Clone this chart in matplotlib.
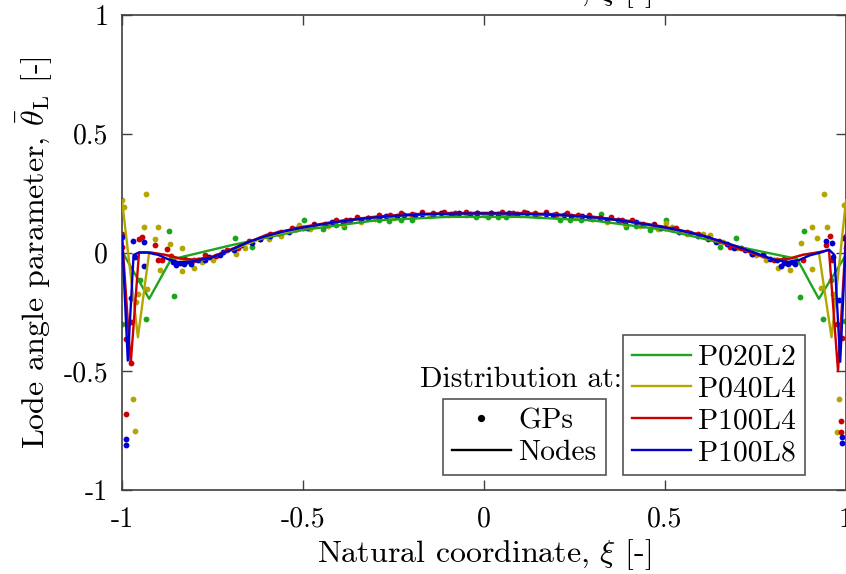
import matplotlib
matplotlib.use("Agg")
import matplotlib.pyplot as plt
from matplotlib.lines import Line2D

plt.rcParams['font.family'] = ['cmr10', 'DejaVu Serif']
plt.rcParams['mathtext.fontset'] = 'cm'
plt.rcParams['axes.formatter.use_mathtext'] = True

# ---------------- data ----------------
series_names = ["P020L2", "P040L4", "P100L4", "P100L8"]
series_colors = ["#1ea51e", "#b3a600", "#cc0000", "#0000cc"]

# Nodes (lines)
p020_node_x = [-1.0, -0.925, -0.865, -0.70, -0.5, -0.3, -0.1, 0.1, 0.3, 0.5, 0.70, 0.865, 0.925, 1.0]
p020_node_y = [0.005, -0.195, -0.03, 0.03, 0.095, 0.135, 0.150, 0.150, 0.135, 0.095, 0.025, -0.027, -0.195, -0.01]

p040_node_x = [-1.0, -0.956, -0.925, -0.88, -0.83, -0.78, -0.7, -0.6, -0.5, -0.4, -0.3, -0.2, -0.1, 0.0,
               0.1, 0.2, 0.3, 0.4, 0.5, 0.6, 0.7, 0.78, 0.83, 0.88, 0.925, 0.96, 1.0]
p040_node_y = [0.22, -0.357, 0.0, -0.01, -0.03, -0.032, 0.008, 0.068, 0.103, 0.130, 0.148, 0.158, 0.163, 0.164,
               0.163, 0.158, 0.148, 0.130, 0.103, 0.072, 0.022, -0.025, -0.03, -0.01, 0.0, -0.357, 0.22]

p100l4_node_x = [-1.0, -0.976, -0.953, -0.92, -0.88, -0.84, -0.8, -0.75, -0.7, -0.6, -0.5, -0.4, -0.3, -0.2, -0.1, 0.0,
                 0.1, 0.2, 0.3, 0.4, 0.5, 0.6, 0.7, 0.75, 0.8, 0.84, 0.88, 0.92, 0.953, 0.978, 1.0]
p100l4_node_y = [0.07, -0.47, 0.0, 0.0, -0.01, -0.025, -0.03, -0.017, 0.013, 0.075, 0.108, 0.133, 0.151, 0.161, 0.166, 0.167,
                 0.166, 0.161, 0.151, 0.133, 0.108, 0.075, 0.018, -0.008, -0.03, -0.028, -0.01, 0.0, 0.01, -0.5, 0.07]

p100l8_node_x = [-1.0, -0.984, -0.968, -0.953, -0.93, -0.9, -0.87, -0.84, -0.8, -0.75, -0.7, -0.65, -0.6, -0.55,
                 -0.5, -0.45, -0.4, -0.35, -0.3, -0.25, -0.2, -0.15, -0.1, -0.05, 0.0,
                 0.05, 0.1, 0.15, 0.2, 0.25, 0.3, 0.35, 0.4, 0.45, 0.5, 0.55, 0.6, 0.65, 0.7, 0.75,
                 0.8, 0.84, 0.87, 0.9, 0.93, 0.953, 0.968, 0.984, 1.0]
p100l8_node_y = [0.07, -0.455, -0.01, 0.0, 0.0, -0.01, -0.03, -0.042, -0.036, -0.02, 0.01, 0.045, 0.07, 0.09,
                 0.105, 0.118, 0.130, 0.140, 0.148, 0.154, 0.158, 0.162, 0.163, 0.164, 0.164,
                 0.164, 0.163, 0.161, 0.158, 0.154, 0.148, 0.140, 0.130, 0.118, 0.105, 0.09, 0.072, 0.05, 0.025, -0.002,
                 -0.03, -0.04, -0.032, -0.012, 0.0, 0.012, -0.01, -0.46, 0.06]

# Gauss points (dots)
p020_gp_x = [-1.0, -0.95, -0.935, -0.87, -0.855, -0.687, -0.64, -0.497, -0.446, -0.409, -0.386,
             -0.29, -0.262, -0.23, -0.2, -0.022, 0.01, 0.038, 0.06, 0.209, 0.237, 0.269, 0.297, 0.324,
             0.393, 0.42, 0.458, 0.504, 0.652, 0.697, 0.873, 0.885, 0.936, 0.958, 0.998]
p020_gp_y = [-0.30, -0.115, -0.28, 0.09, -0.185, 0.062, 0.022, 0.135, 0.10, 0.114, 0.107,
             0.135, 0.132, 0.138, 0.138, 0.149, 0.149, 0.149, 0.149, 0.138, 0.138, 0.138, 0.142, 0.163,
             0.107, 0.11, 0.096, 0.138, 0.025, 0.062, -0.188, 0.09, -0.282, -0.115, -0.29]

p040_gp_x = [-1.0, -0.995, -0.935, -0.94, -0.9, -0.91, -0.867, -0.93, -0.955, -0.96, -0.97, -0.965,
             -0.895, -0.835, -0.8, -0.835,
             -0.78, -0.75, -0.685, -0.66, -0.593, -0.56, -0.51, -0.48, -0.43, -0.39, -0.34, -0.3, -0.25,
             -0.2, -0.15, -0.1, -0.05, 0.0, 0.05, 0.1, 0.15, 0.2, 0.25, 0.3, 0.34, 0.39, 0.43, 0.48,
             0.504, 0.52, 0.56, 0.605, 0.625, 0.66, 0.7, 0.75, 0.78,
             0.812, 0.845, 0.905, 0.875, 0.92, 0.905, 0.947, 0.94, 0.93, 0.965, 0.98, 0.975, 0.995]
p040_gp_y = [0.22, 0.19, 0.247, 0.107, 0.107, 0.058, 0.036, -0.153, -0.174, -0.209, -0.616, -0.752,
             -0.073, -0.076, -0.065, 0.017,
             -0.04, -0.03, -0.006, 0.02, 0.058, 0.07, 0.114, 0.10, 0.112, 0.122, 0.13, 0.14, 0.146,
             0.152, 0.155, 0.158, 0.157, 0.16, 0.157, 0.158, 0.155, 0.152, 0.146, 0.14, 0.13, 0.122, 0.112, 0.10,
             0.123, 0.108, 0.08, 0.079, 0.075, 0.045, 0.02, -0.012, -0.03,
             -0.065, -0.073, -0.069, 0.04, 0.06, 0.109, 0.109, 0.247, -0.149, -0.174, -0.616, -0.754, 0.20]

p100l4_gp_x = [-1.0, -1.0, -0.99, -0.975, -0.976, -0.988, -0.953, -0.944, -0.91, -0.9, -0.89, -0.875, -0.865,
               -0.86, -0.83, -0.8, -0.77, -0.74, -0.71, -0.68, -0.65, -0.62, -0.59, -0.56, -0.53, -0.5, -0.47,
               -0.44, -0.41, -0.38, -0.35, -0.32, -0.29, -0.26, -0.23, -0.2, -0.17, -0.14, -0.11, -0.08, -0.05,
               -0.02, 0.02, 0.05, 0.08, 0.11, 0.14, 0.17, 0.2, 0.23, 0.26, 0.29, 0.32, 0.35, 0.38, 0.41, 0.44,
               0.47, 0.5, 0.53, 0.56, 0.59, 0.62, 0.65, 0.68, 0.71, 0.74, 0.77, 0.8, 0.83, 0.86, 0.88,
               0.945, 0.955, 0.96, 0.97, 0.975, 0.985, 0.985, 0.99, 1.0, 1.0]
p100l4_gp_y = [0.079, 0.022, -0.363, -0.293, -0.466, -0.68, 0.058, 0.067, 0.03, -0.031, -0.031, 0.016, -0.013,
               -0.03, -0.022, -0.03, -0.012, -0.015, 0.01, 0.02, 0.05, 0.058, 0.08, 0.085, 0.104, 0.105, 0.122,
               0.122, 0.137, 0.136, 0.149, 0.147, 0.158, 0.156, 0.165, 0.162, 0.17, 0.166, 0.172, 0.167, 0.172,
               0.168, 0.168, 0.172, 0.167, 0.172, 0.166, 0.17, 0.162, 0.165, 0.156, 0.158, 0.147, 0.149, 0.136, 0.137, 0.122,
               0.122, 0.105, 0.104, 0.085, 0.08, 0.058, 0.05, 0.025, 0.018, -0.005, -0.01, -0.03, -0.028, -0.045, -0.03,
               0.03, 0.07, -0.03, -0.2, -0.3, -0.71, -0.754, -0.36, 0.07, 0.02]

p100l8_gp_x = [-1.0, -0.99, -0.99, -0.97, -0.94, -0.94, -0.965, -0.975, -0.86, -0.85, -0.84, -0.83, -0.82,
               -0.81, -0.79, -0.77, -0.76, -0.73, -0.72, -0.69, -0.67, -0.64, -0.62, -0.59, -0.57, -0.54, -0.52,
               -0.49, -0.47, -0.44, -0.42, -0.39, -0.37, -0.34, -0.32, -0.29, -0.27, -0.24, -0.22, -0.19, -0.17,
               -0.14, -0.12, -0.09, -0.07, -0.04, -0.02, 0.02, 0.04, 0.07, 0.09, 0.12, 0.14, 0.17, 0.19, 0.22,
               0.24, 0.27, 0.29, 0.32, 0.34, 0.37, 0.39, 0.42, 0.44, 0.47, 0.49, 0.52, 0.54, 0.57, 0.59, 0.62,
               0.64, 0.67, 0.69, 0.72, 0.74, 0.77, 0.79, 0.81, 0.82, 0.83, 0.84, 0.85, 0.86,
               0.945, 0.96, 0.965, 0.98, 0.99, 0.99, 0.995]
p100l8_gp_y = [0.064, -0.785, -0.81, 0.048, 0.043, -0.055, -0.02, -0.19, -0.04, -0.052, -0.045, -0.05, -0.035,
               -0.048, -0.03, -0.032, -0.018, -0.012, 0.002, 0.012, 0.03, 0.04, 0.058, 0.068, 0.083, 0.088, 0.1,
               0.103, 0.114, 0.116, 0.127, 0.128, 0.138, 0.138, 0.147, 0.146, 0.154, 0.152, 0.159, 0.156, 0.163,
               0.16, 0.166, 0.162, 0.167, 0.162, 0.167, 0.167, 0.162, 0.167, 0.162, 0.166, 0.16, 0.163, 0.156, 0.159,
               0.152, 0.154, 0.146, 0.147, 0.138, 0.138, 0.128, 0.127, 0.116, 0.114, 0.103, 0.1, 0.088, 0.083, 0.068, 0.06,
               0.045, 0.036, 0.02, 0.012, -0.006, -0.012, -0.028, -0.03, -0.055, -0.045, -0.05, -0.04, -0.05,
               0.05, 0.04, -0.02, -0.2, -0.775, -0.8, 0.06]

node_x = [p020_node_x, p040_node_x, p100l4_node_x, p100l8_node_x]
node_y = [p020_node_y, p040_node_y, p100l4_node_y, p100l8_node_y]
gp_x = [p020_gp_x, p040_gp_x, p100l4_gp_x, p100l8_gp_x]
gp_y = [p020_gp_y, p040_gp_y, p100l4_gp_y, p100l8_gp_y]

x_ticks = [-1, -0.5, 0, 0.5, 1]
x_tick_labels = ["-1", "-0.5", "0", "0.5", "1"]
y_ticks = [-1, -0.5, 0, 0.5, 1]
y_tick_labels = ["-1", "-0.5", "0", "0.5", "1"]

x_label = r"Natural coordinate, $\xi$ [-]"
y_label = r"Lode angle parameter, $\bar{\theta}_{\mathrm{L}}$ [-]"

# ---------------- figure ----------------
W, H = 846, 574
fig = plt.figure(figsize=(W / 100, H / 100), dpi=100)
ax_l, ax_r, ax_t, ax_b = 122, 846, 15, 490
ax = fig.add_axes([ax_l / W, 1 - ax_b / H, (ax_r - ax_l) / W, (ax_b - ax_t) / H])

FS_TICK = 20
FS_LEG = 21.3
FS_LAB = 23
MS = 4.2

for xs, ys, c in zip(gp_x, gp_y, series_colors):
    ax.plot(xs, ys, linestyle='none', marker='o', markersize=MS, color=c, markeredgewidth=0, zorder=2)
for xs, ys, c in zip(node_x, node_y, series_colors):
    ax.plot(xs, ys, '-', color=c, lw=1.7, zorder=3)

ax.set_xlim(-1, 1)
ax.set_ylim(-1, 1)
ax.set_xticks(x_ticks)
ax.set_xticklabels(x_tick_labels)
ax.set_yticks(y_ticks)
ax.set_yticklabels(y_tick_labels)
ax.tick_params(direction='in', top=True, right=True, length=7, width=1.0,
               color='#404040', labelsize=FS_TICK)
ax.tick_params(axis='x', pad=12)
ax.tick_params(axis='y', pad=10)
for s in ax.spines.values():
    s.set_color('#404040')
    s.set_linewidth(1.2)

ax.set_xlabel(x_label, fontsize=FS_LAB, labelpad=3)
ax.set_ylabel(y_label, fontsize=FS_LAB, labelpad=7)

lx0 = lambda px: (px - ax_l) / (ax_r - ax_l)
ly0 = lambda py: (ax_b - py) / (ax_b - ax_t)

# Legend of meshes
mesh_handles = [Line2D([], [], color=c, lw=1.7) for c in series_colors]
leg1 = ax.legend(mesh_handles, series_names, loc='lower left',
                 bbox_to_anchor=(lx0(623), ly0(475)),
                 borderaxespad=0, fontsize=FS_LEG, handlelength=2.0, handletextpad=0.25,
                 labelspacing=0.17, borderpad=0.3, fancybox=False, framealpha=1,
                 edgecolor='#555555')
leg1.get_frame().set_linewidth(1.2)
ax.add_artist(leg1)

# Legend of distribution type
dist_handles = [Line2D([], [], color='k', marker='o', markersize=MS, linestyle='none'),
                Line2D([], [], color='k', lw=1.7)]
leg2 = ax.legend(dist_handles, ["GPs", "Nodes"], loc='lower left',
                 bbox_to_anchor=(lx0(443), ly0(475)),
                 borderaxespad=0, fontsize=FS_LEG, handlelength=2.0, handletextpad=0.25,
                 labelspacing=0.17, borderpad=0.3, fancybox=False, framealpha=1,
                 edgecolor='#555555')
leg2.get_frame().set_linewidth(1.2)

ax.text(lx0(521), ly0(380), "Distribution at:",
        transform=ax.transAxes, ha='center', va='center', fontsize=FS_LEG)

# clipped label of the panel above
fig.text(484 / W, 1.0, x_label, ha='center', va='baseline', fontsize=FS_LAB)

fig.savefig("out.png", dpi=100)
